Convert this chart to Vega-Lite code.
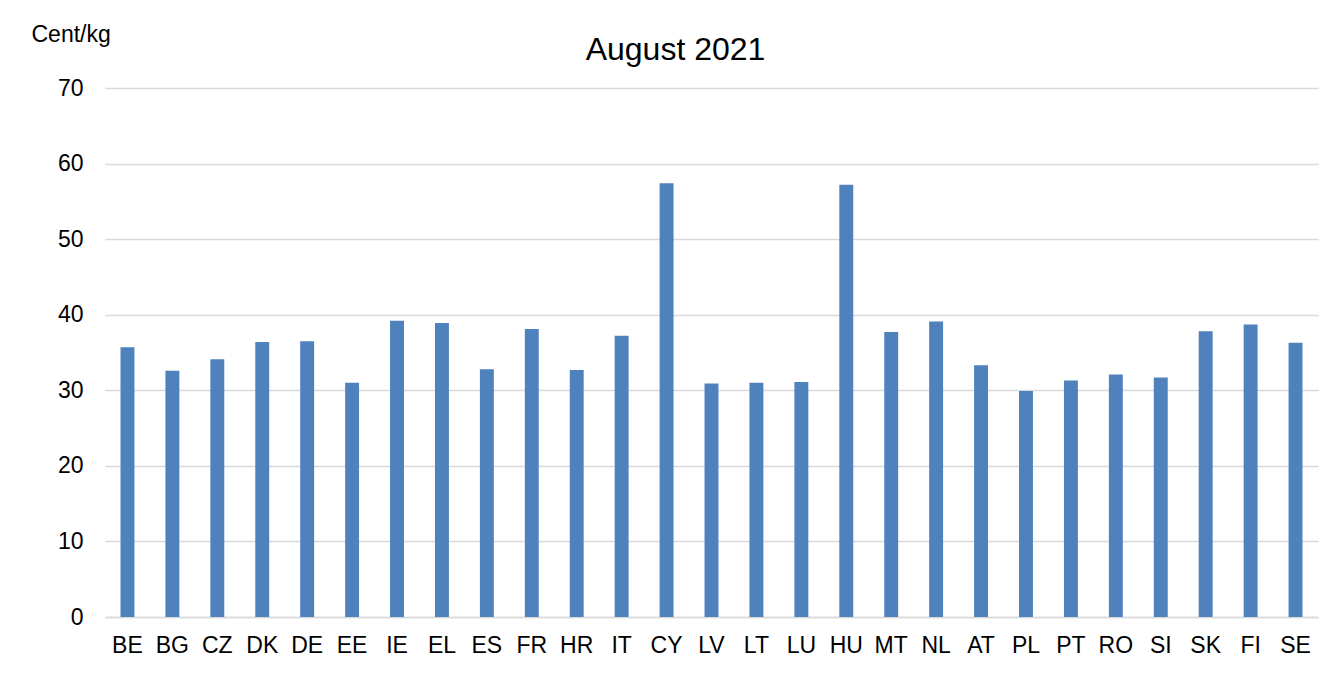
{
  "$schema": "https://vega.github.io/schema/vega-lite/v6.json",
  "autosize": "none",
  "width": 1213,
  "height": 529,
  "padding": {"left": 105, "top": 88, "right": 14, "bottom": 80},
  "background": "white",
  "title": {
    "text": "August 2021",
    "font": "Liberation Sans",
    "fontSize": 32,
    "fontWeight": "normal",
    "color": "#000000",
    "anchor": "middle",
    "baseline": "alphabetic",
    "dx": -36,
    "dy": 31,
    "offset": -38
  },
  "data": {
    "values": [
      {"country": "BE", "value": 35.7},
      {"country": "BG", "value": 32.6},
      {"country": "CZ", "value": 34.1},
      {"country": "DK", "value": 36.4},
      {"country": "DE", "value": 36.5},
      {"country": "EE", "value": 31.0},
      {"country": "IE", "value": 39.2},
      {"country": "EL", "value": 38.9},
      {"country": "ES", "value": 32.8},
      {"country": "FR", "value": 38.1},
      {"country": "HR", "value": 32.7},
      {"country": "IT", "value": 37.2},
      {"country": "CY", "value": 57.4},
      {"country": "LV", "value": 30.9},
      {"country": "LT", "value": 31.0},
      {"country": "LU", "value": 31.1},
      {"country": "HU", "value": 57.2},
      {"country": "MT", "value": 37.7},
      {"country": "NL", "value": 39.1},
      {"country": "AT", "value": 33.3},
      {"country": "PL", "value": 29.9},
      {"country": "PT", "value": 31.3},
      {"country": "RO", "value": 32.1},
      {"country": "SI", "value": 31.7},
      {"country": "SK", "value": 37.8},
      {"country": "FI", "value": 38.7},
      {"country": "SE", "value": 36.3}
    ]
  },
  "mark": {"type": "bar", "color": "#4F81BD", "width": {"band": 0.31}},
  "encoding": {
    "x": {
      "field": "country",
      "type": "nominal",
      "sort": null,
      "scale": {"paddingInner": 0, "paddingOuter": 0},
      "axis": {
        "title": null,
        "labelAngle": 0,
        "labelFont": "Liberation Sans",
        "labelFontSize": 23,
        "labelColor": "#000000",
        "labelPadding": 17,
        "ticks": false,
        "domain": true,
        "domainColor": "#d9d9d9",
        "domainWidth": 1.5,
        "grid": false
      }
    },
    "y": {
      "field": "value",
      "type": "quantitative",
      "scale": {"domain": [0, 70], "nice": false},
      "axis": {
        "values": [0, 10, 20, 30, 40, 50, 60, 70],
        "title": "Cent/kg",
        "titleAngle": 0,
        "titleX": -74,
        "titleY": -54,
        "titleAlign": "left",
        "titleBaseline": "middle",
        "titleFont": "Liberation Sans",
        "titleFontSize": 23,
        "titleFontWeight": "normal",
        "titleColor": "#000000",
        "labelFont": "Liberation Sans",
        "labelFontSize": 23,
        "labelColor": "#000000",
        "labelPadding": 22,
        "ticks": false,
        "domain": false,
        "grid": true,
        "gridColor": "#d9d9d9",
        "gridWidth": 1.5
      }
    }
  },
  "config": {"view": {"stroke": null}}
}
